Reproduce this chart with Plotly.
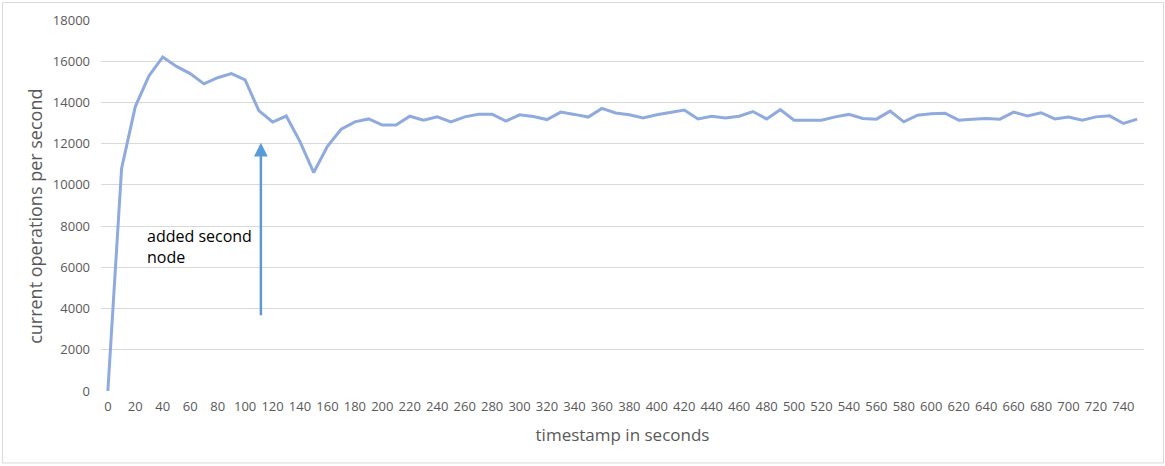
import plotly.graph_objects as go

timestamps = list(range(0, 760, 10))
ops_per_second = [
    0, 10800, 13800, 15300, 16200, 15750, 15400, 14900, 15200, 15400,
    15100, 13600, 13050, 13340, 12100, 10600, 11870, 12700, 13060, 13200,
    12900, 12900, 13330, 13140, 13300, 13060, 13300, 13430, 13430, 13090,
    13400, 13320, 13170, 13530, 13420, 13290, 13710, 13490, 13400, 13250,
    13400, 13530, 13630, 13200, 13330, 13250, 13330, 13560, 13200, 13650,
    13140, 13140, 13140, 13300, 13420, 13220, 13190, 13580, 13060, 13380,
    13450, 13480, 13140, 13190, 13220, 13190, 13530, 13350, 13500, 13200,
    13290, 13140, 13300, 13350, 12980, 13190,
]
x_tick_values = list(range(0, 760, 20))
y_tick_values = list(range(0, 20000, 2000))

note_text = "added second<br>node"
arrow_x = 111.5
arrow_tail_y = 3600
arrow_head_y = 12050

fig = go.Figure()
fig.add_trace(go.Scatter(
    x=timestamps, y=ops_per_second, mode="lines",
    line=dict(color="#8FAADC", width=3),
    hoverinfo="skip", showlegend=False,
))

fig.add_annotation(
    x=arrow_x, y=arrow_head_y, ax=arrow_x, ay=arrow_tail_y,
    xref="x", yref="y", axref="x", ayref="y",
    showarrow=True, arrowhead=2, arrowsize=1.1, arrowwidth=2.5,
    arrowcolor="#5B9BD5", text="",
)
fig.add_annotation(
    x=26.9, y=7000, xref="x", yref="y", text=note_text, showarrow=False,
    xanchor="left", yanchor="middle", align="left",
    font=dict(family="Open Sans", size=16, color="#000000"),
)
# y-axis title placed as rotated text
fig.add_annotation(
    x=-0.0633, y=0.472, xref="paper", yref="paper",
    text="current operations per second", showarrow=False, textangle=-90,
    xanchor="center", yanchor="middle",
    font=dict(family="Open Sans", size=18, color="#595959"),
)

fig.add_shape(
    type="rect", xref="paper", yref="paper",
    x0=-0.0944, x1=1.0187, y0=-0.194, y1=1.047,
    line=dict(color="#D9D9D9", width=1), fillcolor="rgba(0,0,0,0)", layer="below",
)

fig.update_layout(
    width=1165, height=466,
    margin=dict(l=101, r=21, t=20, b=75),
    paper_bgcolor="white", plot_bgcolor="white",
    xaxis=dict(
        range=[-5, 755], tickmode="array", tickvals=x_tick_values,
        ticktext=[str(v) for v in x_tick_values],
        showgrid=False, zeroline=False, showline=False, automargin=False,
        tickfont=dict(family="Liberation Sans Narrow, Open Sans", size=13, color="#595959"),
        ticklabelstandoff=6,
        title=dict(text="timestamp in seconds", standoff=15,
                   font=dict(family="Open Sans", size=17, color="#595959")),
    ),
    yaxis=dict(
        range=[0, 18000], tickmode="array", tickvals=y_tick_values,
        ticktext=[str(v) for v in y_tick_values],
        showgrid=True, gridcolor="#D9D9D9", gridwidth=1, zeroline=False, showline=False,
        automargin=False,
        tickfont=dict(family="Open Sans", size=13, color="#595959"),
        ticklabelstandoff=10,
    ),
)

fig.write_html(
    "out.html",
    config={"displayModeBar": False},
    post_script="document.body.style.margin='0px';document.body.style.overflow='hidden';",
)
